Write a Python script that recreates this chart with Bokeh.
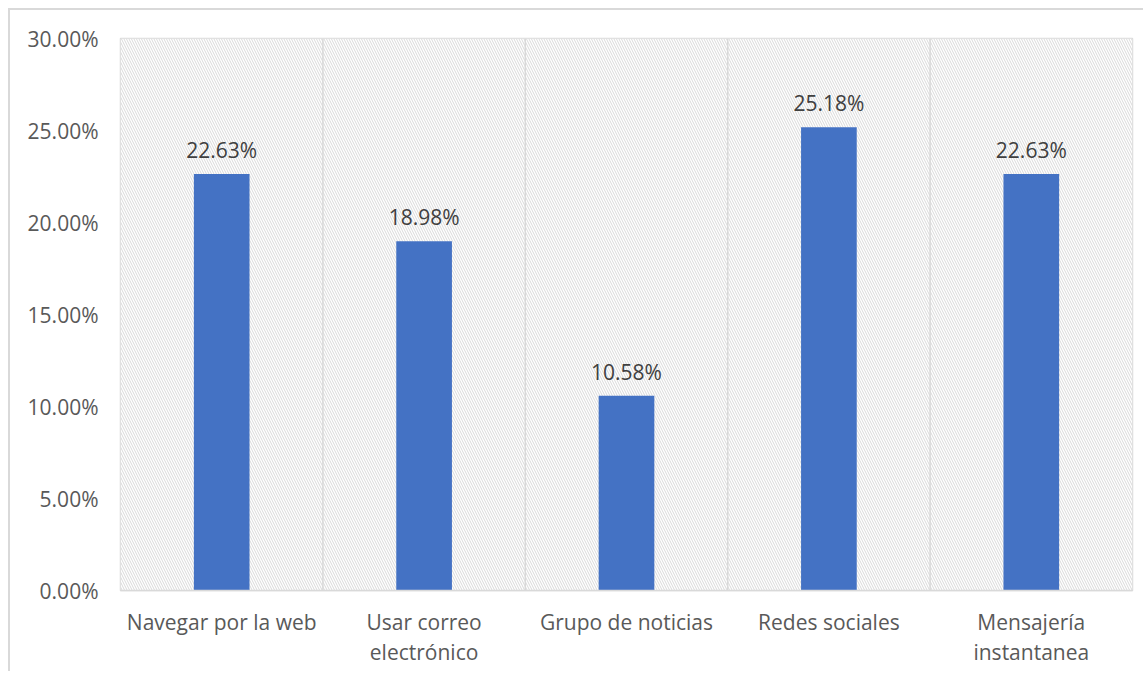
from bokeh.plotting import figure
from bokeh.models import ColumnDataSource, BoxAnnotation, FixedTicker, NumeralTickFormatter, LabelSet, LinearAxis, Range1d, Span
from bokeh.embed import file_html
from bokeh.resources import INLINE
from bokeh.core.properties import value

categories = ["Navegar por la web", "Usar correo electrónico", "Grupo de noticias", "Redes sociales", "Mensajería instantanea"]
label_line1 = ["Navegar por la web", "Usar correo", "Grupo de noticias", "Redes sociales", "Mensajería"]
label_line2 = ["", "electrónico", "", "", "instantanea"]
values = [0.2263, 0.1898, 0.1058, 0.2518, 0.2263]
value_labels = ["22.63%", "18.98%", "10.58%", "25.18%", "22.63%"]
y_ticks = [0.0, 0.05, 0.10, 0.15, 0.20, 0.25, 0.30]

FONT = "Open Sans"
FS = "21px"
GRID = "#d9d9d9"

n = len(categories)
xpos = [i + 0.5 for i in range(n)]

p = figure(x_range=Range1d(0, n), y_range=Range1d(0, 0.30),
           width=1135, height=663, output_backend="svg", toolbar_location=None,
           min_border_left=110, min_border_right=13, min_border_top=28, min_border_bottom=83)
p.styles = {"margin-left": "8px", "margin-top": "8px",
            "border-top": "2px solid #d9d9d9", "border-left": "2px solid #d9d9d9"}

p.outline_line_color = GRID
p.outline_line_width = 1.5

# hatched background
p.add_layout(BoxAnnotation(fill_color="white", fill_alpha=1, line_color=None,
                           hatch_pattern="\\", hatch_color="#d4d4d4", hatch_scale=5,
                           hatch_weight=0.9, hatch_alpha=1.0, level="underlay"))

p.xgrid.grid_line_color = None
p.ygrid.grid_line_color = GRID
p.ygrid.grid_line_width = 1.5
p.ygrid.level = "underlay"

for i in range(1, n):
    p.add_layout(Span(location=i, dimension="height", line_color=GRID, line_width=1.5, level="underlay"))

src = ColumnDataSource(dict(x=xpos, cat=categories, val=values, lab=value_labels))
p.vbar(x="x", top="val", width=0.275, source=src, fill_color="#4472C4", line_color=None)

p.add_layout(LabelSet(x="x", y="val", text="lab", source=src, text_align="center",
                      text_baseline="bottom", y_offset=10, text_font=value(FONT),
                      text_font_size=FS, text_color="#404040"))

p.yaxis.ticker = FixedTicker(ticks=y_ticks)
p.yaxis.formatter = NumeralTickFormatter(format="0.00%")
p.yaxis.axis_line_color = None
p.yaxis.major_tick_line_color = None
p.yaxis.minor_tick_line_color = None
p.yaxis.major_label_standoff = 16
p.yaxis.major_label_text_font = FONT
p.yaxis.major_label_text_font_size = FS
p.yaxis.major_label_text_color = "#595959"

xa = p.xaxis[0]
xa.ticker = FixedTicker(ticks=xpos)
xa.axis_line_color = GRID
xa.axis_line_width = 1.5
xa.major_tick_line_color = None
xa.minor_tick_line_color = None
xa.major_label_standoff = 11
xa.major_label_overrides = {x: t for x, t in zip(xpos, label_line1)}
xa.major_label_text_font = FONT
xa.major_label_text_font_size = FS
xa.major_label_text_color = "#595959"

xa2 = LinearAxis(ticker=FixedTicker(ticks=xpos), axis_line_color=None, major_tick_line_color=None,
                 minor_tick_line_color=None, major_label_standoff=-7,
                 major_label_overrides={x: (t if t else " ") for x, t in zip(xpos, label_line2)},
                 major_label_text_font=FONT, major_label_text_font_size=FS,
                 major_label_text_color="#595959")
p.add_layout(xa2, "below")

open("out.html", "w").write(file_html(p, INLINE))
